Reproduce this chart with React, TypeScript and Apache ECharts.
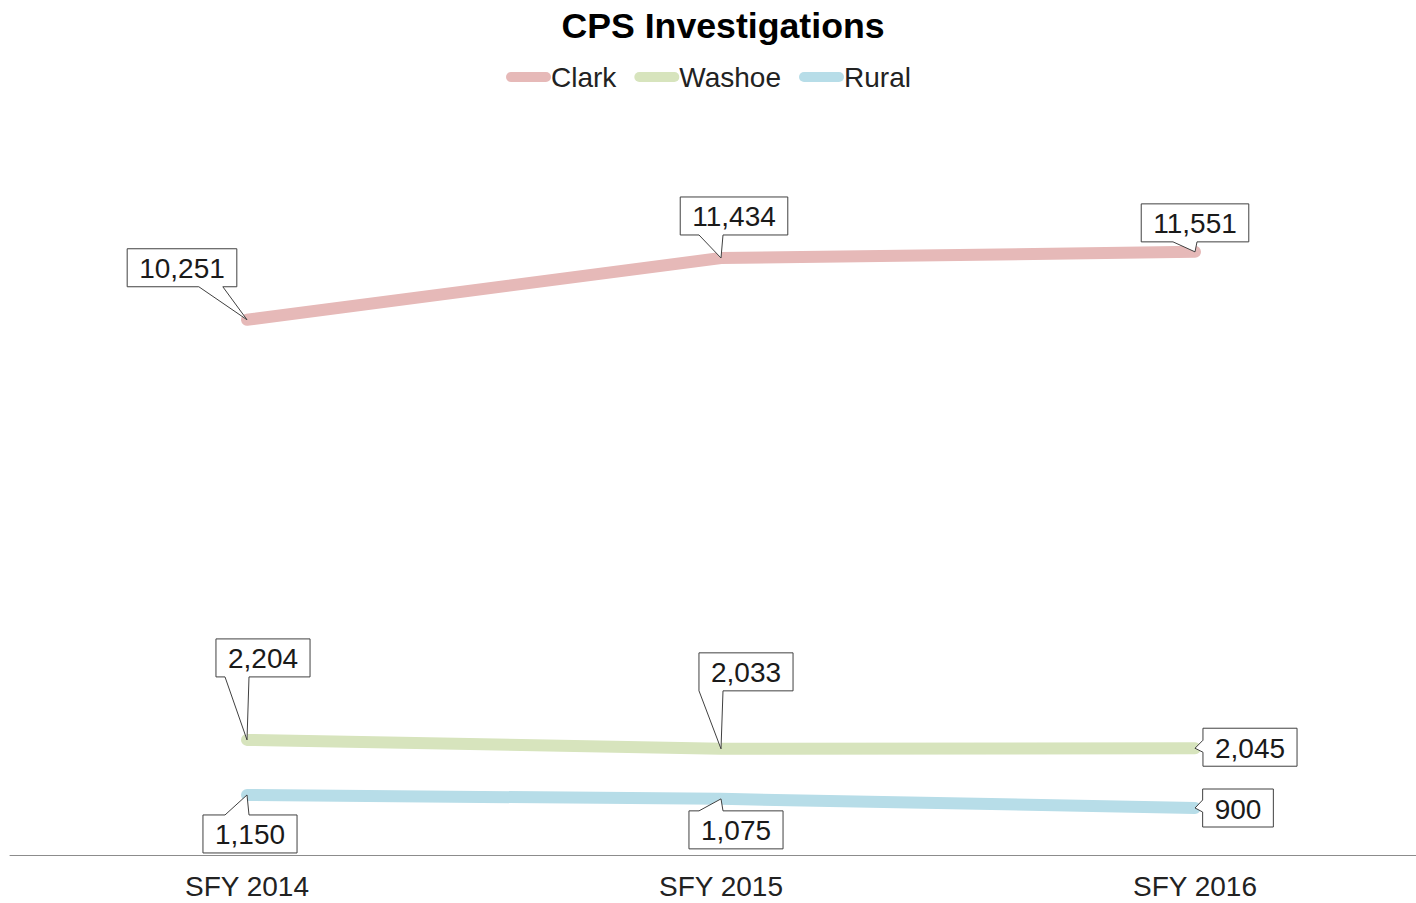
import React, { useEffect, useRef } from "react";
import * as echarts from "echarts";

const categories = ["SFY 2014", "SFY 2015", "SFY 2016"];
const clark = [10251, 11434, 11551];
const washoe = [2204, 2033, 2045];
const rural = [1150, 1075, 900];
const seriesNames = ["Clark", "Washoe", "Rural"];

// label box centre offsets from the point (layout only)
const clarkOffsets = [[-65, -52], [13, -42], [0, -29]];
const washoeOffsets = [[16, -82], [25, -77], [55, -1]];
const ruralOffsets = [[3, 39], [15, 31], [43, 0]];

const colors = ["#e6b9b8", "#d7e4bd", "#b7dde8"];
const FONT = "'Liberation Sans', Arial, sans-serif";
const LABEL_SIZE = 28;

function fmt(v: number) {
  return v.toString().replace(/\B(?=(\d{3})+(?!\d))/g, ",");
}

let ctx: CanvasRenderingContext2D | null = null;
function measure(t: string) {
  if (!ctx) ctx = document.createElement("canvas").getContext("2d");
  if (!ctx) return t.length * 15;
  ctx.font = LABEL_SIZE + "px 'Liberation Sans'";
  return ctx.measureText(t).width;
}

function clamp(v: number, a: number, b: number) {
  return Math.max(a, Math.min(b, v));
}

function makeRender(offsets: number[][]) {
  return (params: any, api: any) => {
    const idx = params.dataIndex;
    const val = api.value(1);
    const p = api.coord([api.value(0), val]);
    const px = p[0];
    const py = p[1];
    const [dx, dy] = offsets[idx];
    const text = fmt(val);
    const w = measure(text) + 24;
    const h = 38;
    const cx = px + dx;
    const cy = py + dy;
    const x0 = cx - w / 2;
    const x1 = cx + w / 2;
    const y0 = cy - h / 2;
    const y1 = cy + h / 2;
    let pts: number[][];
    if (py > y1) {
      const bc = clamp(px, x0 + 16, x1 - 16) - 10;
      pts = [[x0, y0], [x1, y0], [x1, y1], [bc + 12, y1], [px, py], [bc - 12, y1], [x0, y1]];
    } else if (py < y0) {
      const bc = clamp(px, x0 + 16, x1 - 16) - 10;
      pts = [[x0, y0], [bc - 12, y0], [px, py], [bc + 12, y0], [x1, y0], [x1, y1], [x0, y1]];
    } else if (px < x0) {
      const bc = clamp(py, y0 + 9, y1 - 9) - 2;
      pts = [[x0, y0], [x1, y0], [x1, y1], [x0, y1], [x0, bc + 6], [px, py], [x0, bc - 6]];
    } else {
      const bc = clamp(py, y0 + 9, y1 - 9) - 2;
      pts = [[x0, y0], [x1, y0], [x1, bc - 6], [px, py], [x1, bc + 6], [x1, y1], [x0, y1]];
    }
    return {
      type: "group",
      children: [
        {
          type: "polygon",
          shape: { points: pts },
          style: { fill: "#ffffff", stroke: "#404040", lineWidth: 1 },
        },
        {
          type: "text",
          style: {
            text,
            x: cx,
            y: cy + 1,
            align: "center",
            verticalAlign: "middle",
            fontSize: LABEL_SIZE,
            fontFamily: FONT,
            fill: "#1a1a1a",
          },
        },
      ],
    };
  };
}

const capsule = "path://M5,0 H40 A5,5 0 0 1 40,10 H5 A5,5 0 0 1 5,0 Z";

export default function App() {
  const ref = useRef<HTMLDivElement>(null);
  useEffect(() => {
    if (!ref.current) return;
    const chart = echarts.init(ref.current, null, { renderer: "svg" });
    const all = [clark, washoe, rural];
    const offs = [clarkOffsets, washoeOffsets, ruralOffsets];
    const lineSeries = all.map((d, i) => ({
      name: seriesNames[i],
      type: "line",
      data: d,
      symbol: "none",
      lineStyle: { width: 12, color: colors[i], cap: "round", join: "round" },
      itemStyle: { color: colors[i] },
      z: 2,
    }));
    const labelSeries = all.map((d, i) => ({
      name: seriesNames[i],
      type: "custom",
      coordinateSystem: "cartesian2d",
      data: d.map((v, j) => [j, v]),
      encode: { x: 0, y: 1 },
      renderItem: makeRender(offs[i]),
      clip: false,
      z: 5,
      itemStyle: { color: colors[i] },
    }));
    chart.setOption({
      animation: false,
      title: {
        text: "CPS Investigations",
        left: 718,
        textAlign: "center",
        top: 3,
        textStyle: { fontSize: 35.7, fontWeight: "bold", color: "#000", fontFamily: FONT },
      },
      legend: {
        top: 58,
        left: 501,
        itemWidth: 45,
        itemHeight: 11,
        itemGap: 18,
        data: seriesNames.map((n, i) => ({ name: n, icon: capsule, itemStyle: { color: colors[i] } })),
        textStyle: { fontSize: 28, color: "#222", fontFamily: FONT, padding: [0, 0, 0, -5] },
      },
      grid: { left: 10, right: 0, top: 124, bottom: 48 },
      xAxis: {
        type: "category",
        data: categories,
        boundaryGap: true,
        axisLine: { lineStyle: { color: "#8c8c8c", width: 1 } },
        axisTick: { show: false },
        axisLabel: { fontSize: 28, color: "#222", fontFamily: FONT, margin: 17 },
      },
      yAxis: {
        type: "value",
        min: 0,
        max: 14000,
        show: false,
        splitLine: { show: false },
      },
      series: [...lineSeries, ...labelSeries],
    });
    return () => chart.dispose();
  }, []);
  return (
    <div
      style={{
        position: "fixed",
        left: 0,
        top: 0,
        width: 1416,
        height: 903,
        overflow: "hidden",
        background: "#fff",
      }}
    >
      <div ref={ref} style={{ width: 1432, height: 903 }} />
    </div>
  );
}
